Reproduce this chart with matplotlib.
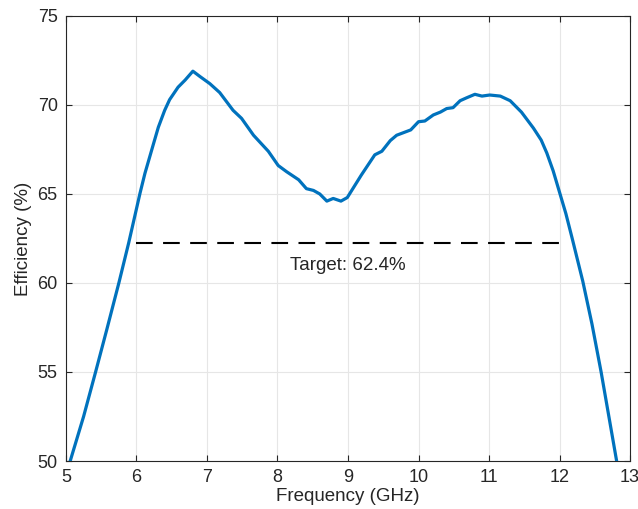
import matplotlib.pyplot as plt
import numpy as np

# Efficiency curve
freq = [5.06, 5.25, 5.42, 5.58, 5.75, 5.89, 6.05, 6.12, 6.24, 6.31, 6.40, 6.47, 6.59,
        6.69, 6.80, 6.90, 7.04, 7.18, 7.37, 7.49, 7.66, 7.87, 8.01, 8.13, 8.30, 8.41,
        8.51, 8.60, 8.70, 8.79, 8.90, 8.99, 9.19, 9.38, 9.48, 9.60, 9.69, 9.89, 10.00,
        10.09, 10.21, 10.31, 10.40, 10.49, 10.59, 10.68, 10.80, 10.90, 11.01, 11.16,
        11.30, 11.46, 11.63, 11.74, 11.82, 11.91, 12.00, 12.09, 12.18, 12.33, 12.46,
        12.59, 12.70, 12.81]
eff = [50.0, 52.5, 55.0, 57.4, 60.0, 62.26, 65.04, 66.16, 67.8, 68.75, 69.7, 70.3, 71.0,
       71.4, 71.9, 71.6, 71.2, 70.7, 69.7, 69.25, 68.3, 67.4, 66.6, 66.25, 65.8, 65.3,
       65.2, 65.0, 64.6, 64.75, 64.6, 64.8, 66.07, 67.2, 67.4, 68.0, 68.3, 68.6, 69.06,
       69.1, 69.44, 69.6, 69.8, 69.85, 70.24, 70.4, 70.6, 70.5, 70.56, 70.5,
       70.24, 69.6, 68.7, 68.03, 67.3, 66.3, 65.1, 63.9, 62.5, 60.1, 57.7,
       55.0, 52.5, 50.0]

target = 62.26
target_label = "Target: 62.4%"
target_span = [6, 12]

plt.rcParams['font.family'] = ['Liberation Sans', 'DejaVu Sans']
txt = '#262626'

fig = plt.figure(figsize=(6.38, 5.09), dpi=100)
ax = fig.add_axes([0.1034, 0.0943, 0.8841, 0.8743])

ax.plot(freq, eff, color='#0072BD', lw=2.3, zorder=3)
ax.plot(target_span, [target, target], color='black', lw=1.5,
        linestyle=(0, (8, 5)), zorder=3)
ax.text(9, target - 1.25, target_label, ha='center', va='center',
        fontsize=13.5, color=txt)

ax.set_xlim(5, 13)
ax.set_ylim(50, 75)
ax.set_xticks(np.arange(5, 14, 1))
ax.set_yticks(np.arange(50, 76, 5))
ax.grid(True, color='#e6e6e6', lw=0.8, zorder=0)
ax.set_axisbelow(True)

ax.tick_params(direction='in', top=True, right=True, length=4,
               colors=txt, labelsize=13, width=0.8)
ax.tick_params(axis='x', pad=6)
ax.tick_params(axis='y', pad=6)
for s in ax.spines.values():
    s.set_color(txt)
    s.set_linewidth(0.8)

ax.set_xlabel('Frequency (GHz)', fontsize=13.5, color=txt, labelpad=1)
ax.set_ylabel('Efficiency (%)', fontsize=13.5, color=txt, labelpad=4)

fig.savefig('out.png', dpi=100)
